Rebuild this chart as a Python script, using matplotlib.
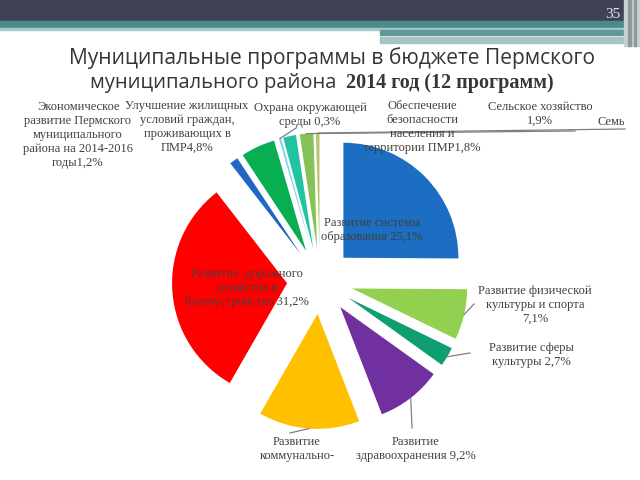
import numpy as np
import matplotlib
matplotlib.use("Agg")
import matplotlib.pyplot as plt
from matplotlib.patches import Rectangle
from matplotlib.transforms import Bbox, TransformedBbox

# данные программ (по часовой стрелке от 12 часов)
labels = [
    "Развитие системы\nобразования 25,1%",
    "Развитие физической\nкультуры и спорта\n7,1%",
    "Развитие сферы\nкультуры 2,7%",
    "Развитие\nздравоохранения 9,2%",
    "Развитие\nкоммунально-",
    "Развитие  дорожного\nхозяйства и\nблагоустройство 31,2%",
    "Экономическое\nразвитие Пермского\nмуниципального\nрайона на 2014-2016\nгоды1,2%",
    "Улучшение жилищных\nусловий граждан,\nпроживающих в\nПМР4,8%",
    "Охрана окружающей\nсреды 0,3%",
    "Обеспечение\nбезопасности\nнаселения и\nтерритории ПМР1,8%",
    "Сельское хозяйство\n1,9%",
    "Семья",
]
values = [25.1, 7.1, 2.7, 9.2, 14.2, 31.2, 1.2, 4.8, 0.3, 1.8, 1.9, 0.5]
colors = ["#1b6ec2", "#92d050", "#0f9e72", "#7030a0", "#ffc000", "#ff0000",
          "#2166c4", "#0aae52", "#7fd3e8", "#22c4a0", "#86c25a", "#b9c46a"]

# положение подписей на слайде (пиксели, y сверху)
label_pos = [(372, 230), (535, 305), (531, 355), (416, 449), (297, 449),
             (247, 288), (78, 135), (187, 127), (310, 115), (422, 127),
             (540, 114), (597, 122)]
# куда ведут выноски (None - без выноски)
leader_end = [None, (474, 304), (470, 353), (412, 428), (290, 433),
              None, None, None, (296, 128), None, (575, 131), (625, 129)]

W, H = 640, 480
fig = plt.figure(figsize=(6.4, 4.8), dpi=100)
ax = fig.add_axes([0, 0, 1, 1])

def Y(y):
    return H - y

cx, cy, R = 320, Y(281), 115
wedges, _ = ax.pie(values, colors=colors, startangle=90, counterclock=False,
                   explode=[33] * len(values), radius=R, center=(cx, cy))
ax.set_xlim(0, W)
ax.set_ylim(0, H)
ax.set_aspect("auto")
ax.axis("off")

txt_kw = dict(family="Liberation Serif", fontsize=9, color="#404040",
              va="center", linespacing=1.2)
for i, w in enumerate(wedges):
    x, y = label_pos[i]
    ha = "left" if i == len(wedges) - 1 else "center"
    t = ax.text(x, Y(y), labels[i], zorder=5, ha=ha, **txt_kw)
    if i == len(wedges) - 1:
        # подпись обрезана краем текстового блока
        t.set_clip_box(TransformedBbox(Bbox([[0, 0], [624, H]]), ax.transData))
        t.set_clip_on(True)
    if leader_end[i] is not None:
        th = np.deg2rad((w.theta1 + w.theta2) / 2)
        sx = w.center[0] + w.r * np.cos(th)
        sy = w.center[1] + w.r * np.sin(th)
        ex, ey = leader_end[i]
        ax.plot([sx, ex], [sy, Y(ey)], color="#7f7f7f", lw=0.9, zorder=4)

# шапка слайда
ax.add_patch(Rectangle((0, Y(21)), W, 21, color="#414156", zorder=6))
ax.add_patch(Rectangle((0, Y(28)), W, 7, color="#4a8b8a", zorder=6))
ax.add_patch(Rectangle((0, Y(30)), W, 2, color="#a9c8c6", zorder=6))
ax.add_patch(Rectangle((380, Y(35)), 245, 5, color="#5f9a98", zorder=6))
ax.add_patch(Rectangle((380, Y(43)), 245, 6, color="#a7c3c2", zorder=6))
ax.add_patch(Rectangle((624, Y(46)), 16, 46, color="#c9d2d2", zorder=6))
ax.add_patch(Rectangle((628, Y(46)), 3, 46, color="#8c9a9a", zorder=6))
ax.add_patch(Rectangle((634, Y(46)), 2, 46, color="#8c9a9a", zorder=6))
ax.text(613, Y(14), "35", family="Liberation Serif", fontsize=11,
        color="#e8e8e8", ha="center", va="center", zorder=7)

# заголовок
ax.text(332, Y(58), "Муниципальные программы в бюджете Пермского",
        family="Open Sans", fontsize=15.1, color="#363636",
        ha="center", va="center", zorder=7)
ax.text(336, Y(83), "муниципального района", family="Open Sans",
        fontsize=14.5, color="#363636", ha="right", va="center", zorder=7)
ax.text(346, Y(83), "2014 год (12 программ)", family="Liberation Serif",
        fontsize=14.5, fontweight="bold", color="#363636",
        ha="left", va="center", zorder=7)

fig.savefig("out.png", dpi=100)
